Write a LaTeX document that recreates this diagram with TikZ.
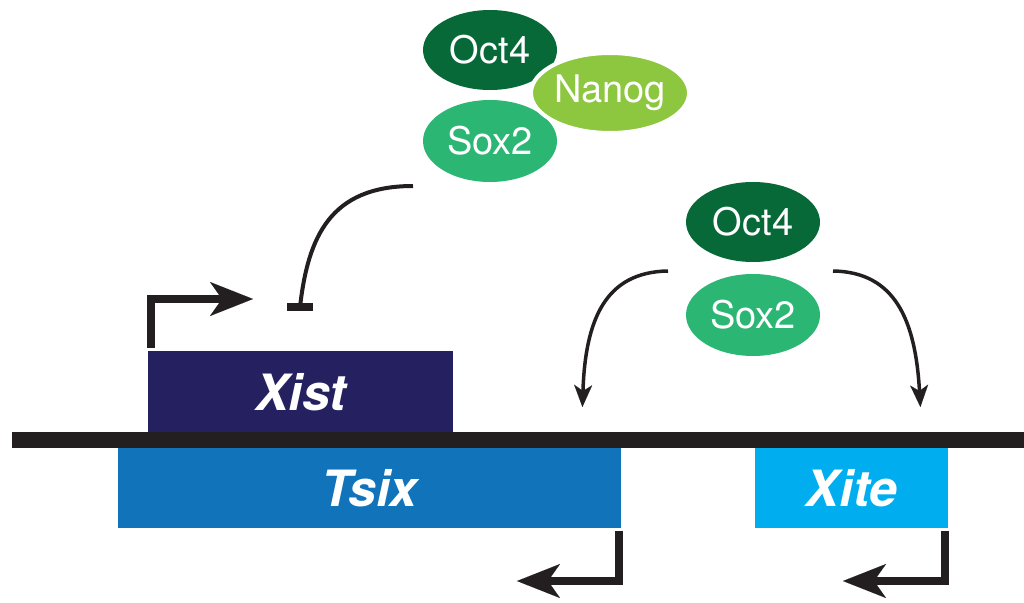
\documentclass[tikz,border=0pt]{standalone}
\usepackage{fontspec}
\setmainfont{TeX Gyre Heros}
\usetikzlibrary{arrows.meta,shapes.geometric,calc}
\definecolor{xistc}{RGB}{37,33,96}
\definecolor{tsixc}{RGB}{17,116,186}
\definecolor{xitec}{RGB}{0,174,239}
\definecolor{octc}{RGB}{6,105,55}
\definecolor{nanogc}{RGB}{141,198,63}
\definecolor{soxc}{RGB}{44,182,116}
\definecolor{inkc}{RGB}{35,31,32}
\begin{document}
\begin{tikzpicture}[x=1pt,y=-1pt,
  genebox/.style={rectangle, inner sep=0pt, anchor=north west, text=white,
    font=\fontsize{50}{56}\selectfont\bfseries\itshape},
  tf/.style={ellipse, inner sep=0pt, minimum width=134pt, minimum height=80pt,
    text=white, font=\fontsize{38}{42}\selectfont},
  prom/.style={draw=inkc, line width=8pt, line join=miter,
    -{Stealth[length=43pt,width=34pt,inset=12pt,line width=0.01pt]}},
  act/.style={draw=inkc, line width=3.5pt,
    -{Stealth[length=22pt,width=18pt,inset=6pt,line width=0.01pt]}},
  inh/.style={draw=inkc, line width=4pt},
  barline/.style={draw=inkc, line width=8pt}
]
\useasboundingbox (0,0) rectangle (1024,602);

% DNA line
\node[fill=inkc, inner sep=0pt, minimum width=1012pt, minimum height=16pt, anchor=west] (dna) at (12,440) {};

% genes
\node[genebox, fill=xistc, minimum width=305pt, minimum height=81pt] (xist) at (148,351) {Xist};
\node[genebox, fill=tsixc, minimum width=503pt, minimum height=80pt] (tsix) at (118,448) {Tsix};
\node[genebox, fill=xitec, minimum width=193pt, minimum height=80pt] (xite) at (755,448) {Xite};

% transcription factors (top)
\node[tf, fill=octc] (oct1) at (490,50) {Oct4};
\node[tf, fill=soxc, minimum height=82pt] (sox1) at (490,141) {Sox2};
\node[tf, fill=nanogc, draw=white, line width=4pt] (nanog) at (610,93) {Nanog};

% transcription factors (right)
\node[tf, fill=octc] (oct2) at (753,222) {Oct4};
\node[tf, fill=soxc, minimum height=82pt] (sox2) at (753,315) {Sox2};

% promoter arrows
\draw[prom] ($(xist.north west)+(3,-3)$) |- (253,299);
\draw[prom] ($(tsix.south east)+(-2,3)$) |- (517,581);
\draw[prom] ($(xite.south east)+(-3,3)$) |- (843,581);

% inhibition
\coordinate (inhend) at ($(xist.north west)+(152,-44)$);
\draw[inh] ($(sox1.center)+(-77,45)$) .. controls +(-83,0) and +(8,-70) .. (inhend);
\draw[barline] ($(inhend)+(-13,0)$) -- ($(inhend)+(13,0)$);

% activation
\draw[act] ($(oct2.center)+(-85,49)$) .. controls +(-63,1) and +(3,-87) .. ($(tsix.north east)+(-39,-41)$);
\draw[act] ($(oct2.center)+(80,49)$) .. controls +(62,1) and +(-5,-87) .. ($(xite.north east)+(-28,-41)$);
\end{tikzpicture}
\end{document}
